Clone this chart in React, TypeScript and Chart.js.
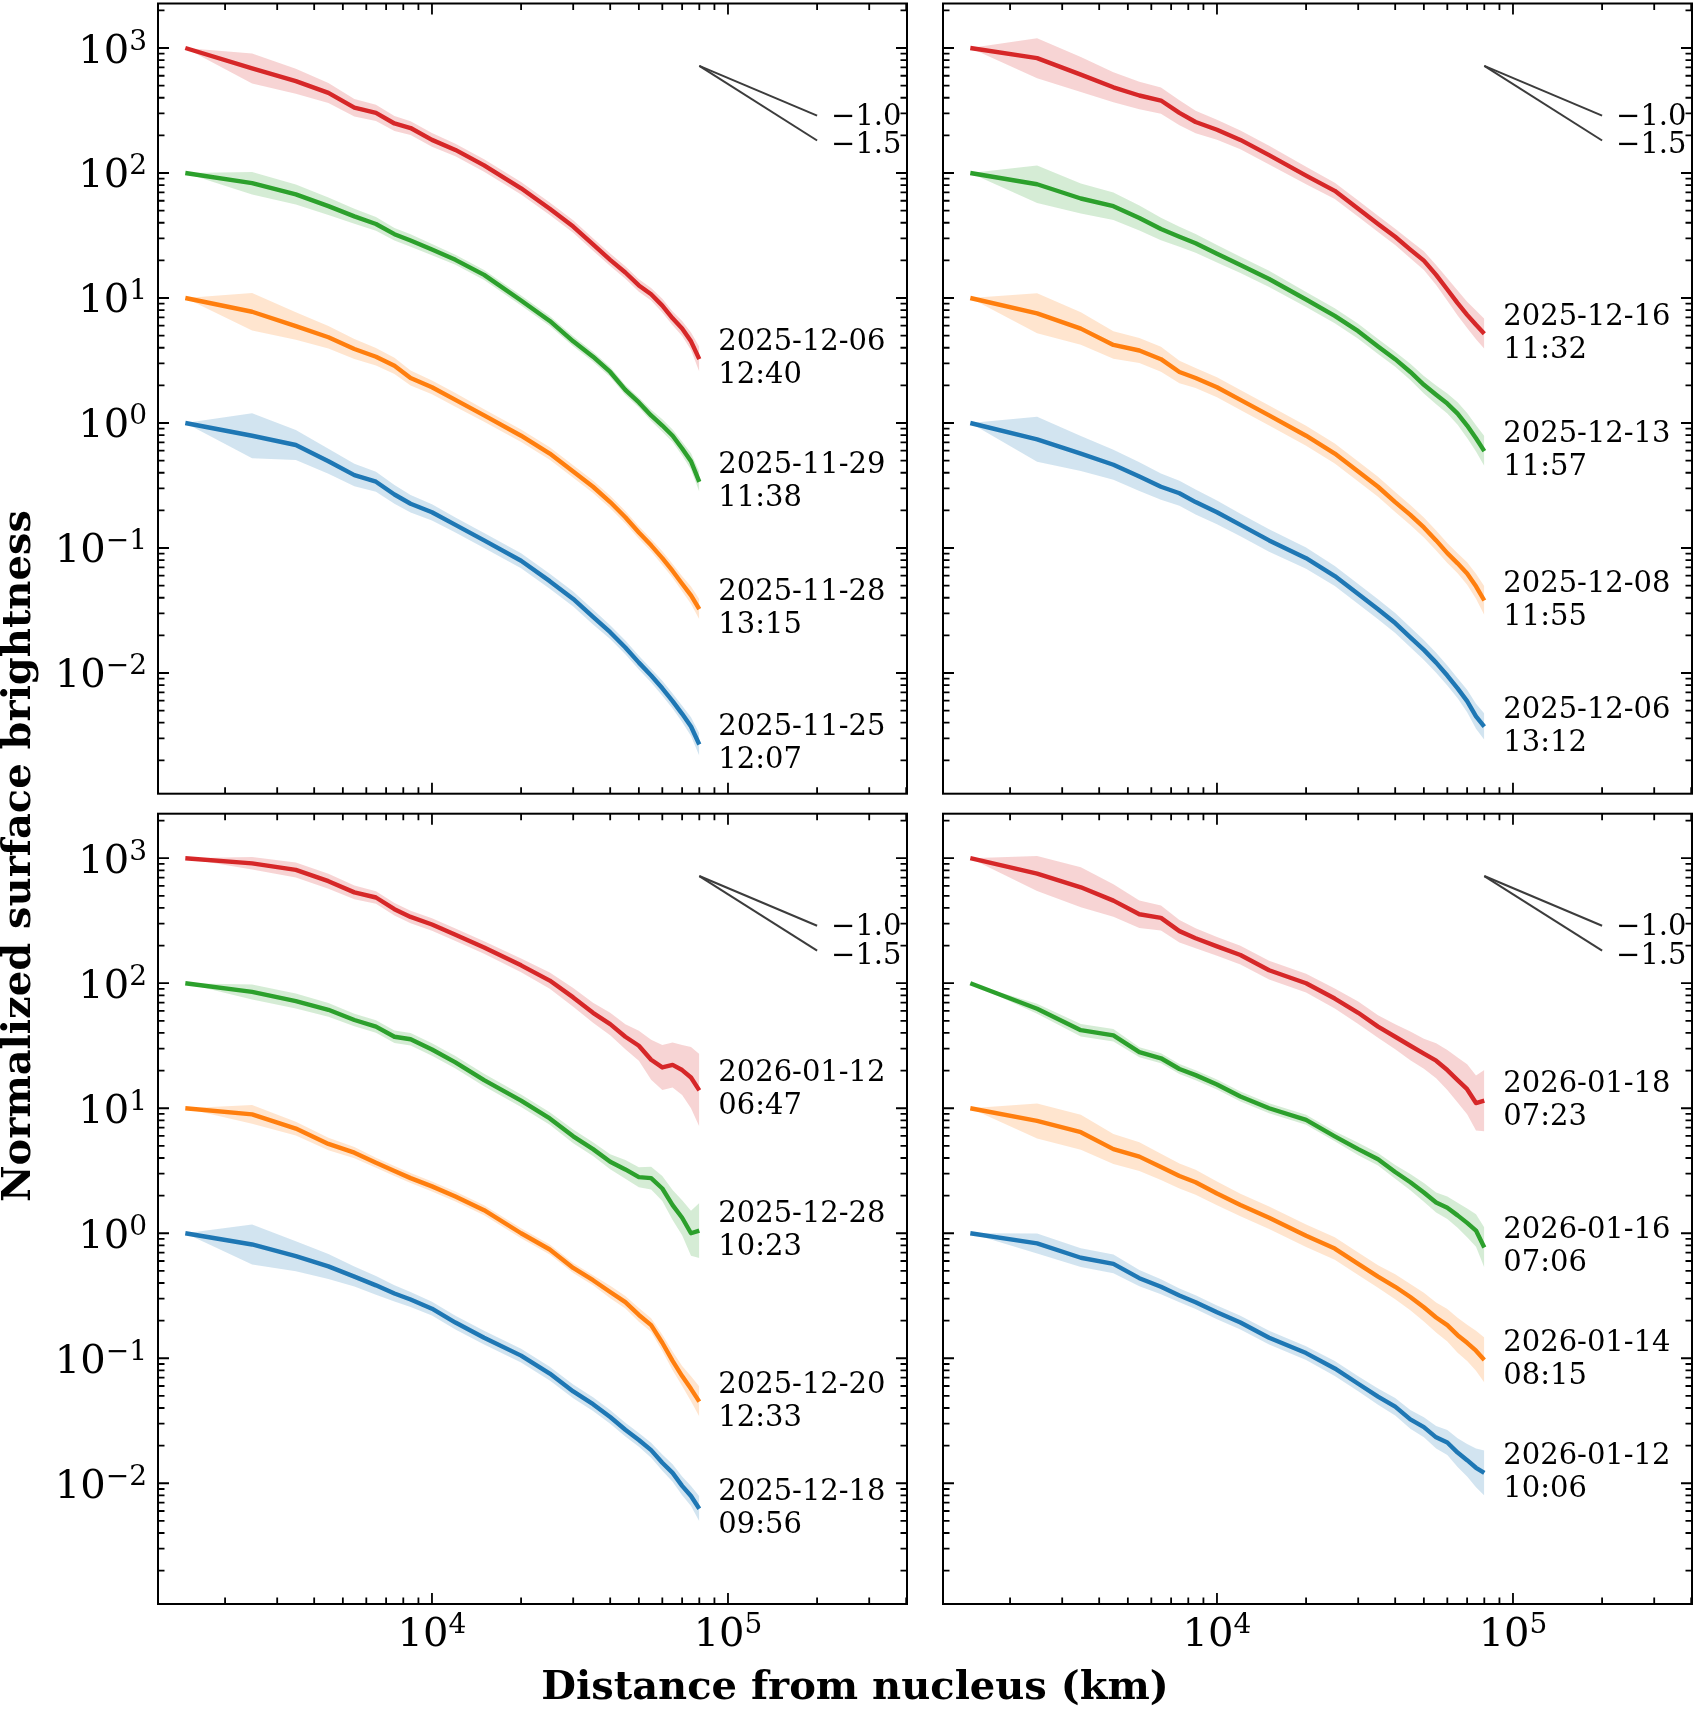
import React, { useEffect, useRef } from "react";
import { Chart, registerables } from "chart.js";

Chart.register(...registerables);

const W = 1696;
const H = 1713;

// distance from nucleus (km), sample positions
const DIST_KM = [1468, 2468, 3468, 4468, 5468, 6468, 7468, 8468, 10000, 12000, 15000, 20000, 25000, 30000, 35000, 40000, 45000, 50000, 55000, 60000, 65000, 70000, 75000, 80000];

// axis limits
const X_MIN = 1187;
const X_MAX = 402500;
const Y_MIN = 0.001082;
const Y_MAX = 2270;

// ---- Panel 1 (top left)
const P1_RED = [1000, 687, 543, 437, 333, 303, 249, 229, 184, 153, 115, 75.4, 51.8, 37.3, 26.8, 20.2, 16.0, 12.6, 10.7, 8.69, 6.87, 5.69, 4.5, 3.24];
const P1_GREEN = [100, 82.9, 67.4, 54.3, 45.0, 39.1, 32.4, 28.8, 24.4, 20.2, 15.3, 9.54, 6.55, 4.5, 3.39, 2.56, 1.84, 1.46, 1.15, 0.954, 0.791, 0.625, 0.494, 0.338];
const P1_ORANGE = [10, 7.76, 5.96, 4.85, 3.91, 3.39, 2.87, 2.29, 1.93, 1.53, 1.15, 0.791, 0.569, 0.41, 0.309, 0.233, 0.176, 0.133, 0.105, 0.0829, 0.0655, 0.0518, 0.0418, 0.0324];
const P1_BLUE = [1, 0.791, 0.667, 0.494, 0.383, 0.339, 0.268, 0.226, 0.193, 0.153, 0.115, 0.0791, 0.0543, 0.0391, 0.0281, 0.0212, 0.016, 0.0121, 0.00954, 0.00754, 0.00596, 0.00471, 0.00373, 0.00268];
const P1_RED_ERR = [0, 0.12, 0.1, 0.08, 0.07, 0.065, 0.06, 0.055, 0.055, 0.05, 0.05, 0.05, 0.05, 0.05, 0.05, 0.05, 0.05, 0.05, 0.05, 0.055, 0.055, 0.06, 0.07, 0.1];
const P1_GREEN_ERR = [0, 0.09, 0.08, 0.07, 0.06, 0.055, 0.05, 0.05, 0.045, 0.04, 0.04, 0.04, 0.04, 0.04, 0.04, 0.04, 0.04, 0.04, 0.045, 0.05, 0.05, 0.055, 0.065, 0.08];
const P1_ORANGE_ERR = [0, 0.15, 0.11, 0.09, 0.08, 0.07, 0.065, 0.06, 0.055, 0.055, 0.05, 0.05, 0.05, 0.05, 0.05, 0.05, 0.05, 0.05, 0.05, 0.055, 0.055, 0.06, 0.07, 0.08];
const P1_BLUE_ERR = [0, 0.18, 0.12, 0.1, 0.09, 0.08, 0.075, 0.07, 0.065, 0.06, 0.06, 0.06, 0.06, 0.06, 0.06, 0.055, 0.055, 0.055, 0.055, 0.06, 0.06, 0.065, 0.075, 0.09];
const P1_LABELS = ["2025-11-25\n12:07", "2025-11-28\n13:15", "2025-11-29\n11:38", "2025-12-06\n12:40"];

// ---- Panel 2 (top right)
const P2_RED = [1000, 829, 613, 485, 417, 380, 303, 256, 222, 184, 139, 95.4, 72.0, 51.8, 39.1, 30.9, 24.4, 19.9, 15.3, 11.7, 9.1, 7.33, 6.1, 5.18];
const P2_GREEN = [100, 81.3, 62.5, 54.3, 43.7, 35.6, 30.9, 27.4, 22.6, 18.4, 14.2, 9.73, 7.2, 5.43, 4.1, 3.24, 2.56, 2.02, 1.68, 1.43, 1.19, 0.954, 0.754, 0.596];
const P2_ORANGE = [10, 7.54, 5.69, 4.21, 3.8, 3.24, 2.56, 2.29, 1.93, 1.53, 1.15, 0.791, 0.569, 0.41, 0.309, 0.233, 0.184, 0.146, 0.115, 0.091, 0.0754, 0.0625, 0.0494, 0.038];
const P2_BLUE = [1, 0.74, 0.569, 0.463, 0.373, 0.309, 0.274, 0.233, 0.193, 0.153, 0.115, 0.0829, 0.0596, 0.0429, 0.0324, 0.0251, 0.0193, 0.0153, 0.0121, 0.00954, 0.00754, 0.00596, 0.0045, 0.00373];
const P2_RED_ERR = [0, 0.16, 0.14, 0.12, 0.11, 0.105, 0.1, 0.09, 0.08, 0.075, 0.075, 0.07, 0.065, 0.065, 0.065, 0.065, 0.07, 0.075, 0.08, 0.09, 0.1, 0.105, 0.115, 0.12];
const P2_GREEN_ERR = [0, 0.15, 0.12, 0.11, 0.1, 0.09, 0.08, 0.075, 0.07, 0.065, 0.065, 0.06, 0.06, 0.06, 0.06, 0.06, 0.065, 0.07, 0.075, 0.08, 0.09, 0.1, 0.105, 0.12];
const P2_ORANGE_ERR = [0, 0.16, 0.13, 0.11, 0.1, 0.1, 0.09, 0.08, 0.08, 0.08, 0.08, 0.08, 0.08, 0.08, 0.08, 0.08, 0.08, 0.08, 0.08, 0.08, 0.08, 0.09, 0.1, 0.115];
const P2_BLUE_ERR = [0, 0.18, 0.14, 0.12, 0.115, 0.105, 0.1, 0.1, 0.095, 0.09, 0.09, 0.085, 0.08, 0.08, 0.08, 0.08, 0.08, 0.08, 0.08, 0.08, 0.08, 0.09, 0.1, 0.105];
const P2_LABELS = ["2025-12-06\n13:12", "2025-12-08\n11:55", "2025-12-13\n11:57", "2025-12-16\n11:32"];

// ---- Panel 3 (bottom left)
const P3_RED = [1000, 910, 806, 655, 533, 485, 391, 339, 295, 244, 193, 139, 105, 77.0, 58.0, 47.1, 37.3, 31.6, 24.4, 21.2, 22.2, 20.2, 17.6, 13.9];
const P3_GREEN = [100, 85.2, 72.0, 61.3, 50.8, 45.0, 37.3, 35.6, 29.5, 23.3, 16.8, 11.5, 8.29, 5.96, 4.71, 3.73, 3.24, 2.81, 2.76, 2.28, 1.68, 1.33, 1.0, 1.05];
const P3_ORANGE = [10, 8.93, 6.87, 5.18, 4.41, 3.66, 3.15, 2.76, 2.37, 1.97, 1.53, 1.0, 0.741, 0.528, 0.421, 0.339, 0.281, 0.222, 0.184, 0.133, 0.0954, 0.072, 0.0569, 0.045];
const P3_BLUE = [1, 0.813, 0.655, 0.543, 0.45, 0.383, 0.33, 0.295, 0.249, 0.193, 0.146, 0.105, 0.0754, 0.0543, 0.0429, 0.0339, 0.0268, 0.0222, 0.0184, 0.0146, 0.0121, 0.00954, 0.00791, 0.00625];
const P3_RED_ERR = [0, 0.05, 0.06, 0.06, 0.055, 0.05, 0.05, 0.05, 0.05, 0.05, 0.05, 0.055, 0.065, 0.075, 0.08, 0.09, 0.1, 0.12, 0.16, 0.18, 0.18, 0.2, 0.245, 0.29];
const P3_GREEN_ERR = [0, 0.06, 0.06, 0.055, 0.05, 0.05, 0.05, 0.05, 0.05, 0.05, 0.05, 0.05, 0.05, 0.055, 0.055, 0.06, 0.075, 0.08, 0.09, 0.1, 0.12, 0.14, 0.18, 0.22];
const P3_ORANGE_ERR = [0, 0.075, 0.055, 0.05, 0.045, 0.04, 0.04, 0.04, 0.04, 0.04, 0.04, 0.04, 0.04, 0.04, 0.04, 0.05, 0.05, 0.055, 0.055, 0.065, 0.075, 0.08, 0.1, 0.12];
const P3_BLUE_ERR = [0, 0.16, 0.12, 0.1, 0.08, 0.075, 0.065, 0.06, 0.055, 0.055, 0.055, 0.055, 0.055, 0.055, 0.055, 0.055, 0.055, 0.055, 0.06, 0.065, 0.07, 0.075, 0.08, 0.1];
const P3_LABELS = ["2025-12-18\n09:56", "2025-12-20\n12:33", "2025-12-28\n10:23", "2026-01-12\n06:47"];

// ---- Panel 4 (bottom right)
const P4_RED = [1000, 754, 585, 458, 356, 333, 261, 229, 197, 168, 127, 100, 75.4, 58.0, 45.0, 37.3, 31.6, 27.3, 24.0, 20.2, 16.8, 14.2, 11.0, 11.5];
const P4_GREEN = [100, 62.5, 42.1, 38.3, 28.1, 25.1, 20.6, 18.4, 15.5, 12.4, 10.0, 8.07, 5.96, 4.71, 3.91, 3.09, 2.56, 2.12, 1.76, 1.6, 1.39, 1.21, 1.05, 0.77];
const P4_ORANGE = [10, 7.91, 6.43, 4.71, 4.1, 3.39, 2.87, 2.56, 2.08, 1.68, 1.33, 0.954, 0.754, 0.569, 0.45, 0.373, 0.309, 0.256, 0.212, 0.184, 0.153, 0.133, 0.115, 0.097];
const P4_BLUE = [1, 0.829, 0.637, 0.569, 0.437, 0.373, 0.318, 0.281, 0.233, 0.193, 0.146, 0.11, 0.0829, 0.0625, 0.0494, 0.041, 0.0324, 0.0281, 0.0233, 0.0212, 0.0176, 0.0153, 0.0133, 0.0121];
const P4_RED_ERR = [0, 0.14, 0.16, 0.13, 0.11, 0.1, 0.09, 0.08, 0.075, 0.075, 0.075, 0.075, 0.08, 0.09, 0.09, 0.1, 0.115, 0.12, 0.14, 0.16, 0.18, 0.2, 0.22, 0.245];
const P4_GREEN_ERR = [0, 0.04, 0.05, 0.05, 0.04, 0.04, 0.04, 0.04, 0.04, 0.04, 0.04, 0.04, 0.04, 0.05, 0.05, 0.055, 0.065, 0.075, 0.08, 0.09, 0.1, 0.115, 0.13, 0.16];
const P4_ORANGE_ERR = [0, 0.14, 0.14, 0.12, 0.115, 0.105, 0.1, 0.1, 0.095, 0.09, 0.09, 0.09, 0.09, 0.09, 0.09, 0.1, 0.105, 0.115, 0.12, 0.13, 0.14, 0.145, 0.16, 0.18];
const P4_BLUE_ERR = [0, 0.08, 0.075, 0.075, 0.065, 0.06, 0.055, 0.055, 0.055, 0.055, 0.055, 0.055, 0.06, 0.06, 0.065, 0.07, 0.075, 0.08, 0.09, 0.1, 0.115, 0.13, 0.155, 0.18];
const P4_LABELS = ["2026-01-12\n10:06", "2026-01-14\n08:15", "2026-01-16\n07:06", "2026-01-18\n07:23"];

// power-law guide lines
const SLOPE_X = [80000, 200000];
const SLOPE_M10_Y = [720, 288];
const SLOPE_M15_Y = [720, 182];
const SLOPE_LABELS = ["\u22121.0", "\u22121.5"];

const X_TITLE = "Distance from nucleus (km)";
const Y_TITLE = "Normalized surface brightness";

const COLORS = ["#1f77b4", "#ff7f0e", "#2ca02c", "#d62728"];
const BANDS = ["rgba(31,119,180,0.2)", "rgba(255,127,14,0.2)", "rgba(44,160,44,0.2)", "rgba(214,39,40,0.2)"];

type PanelCfg = {
  rect: [number, number, number, number]; // left, right, top, bottom
  values: number[][];
  errs: number[][];
  labels: string[];
  showY: boolean;
  showX: boolean;
  titles: boolean;
};

const PANELS: PanelCfg[] = [
  { rect: [158, 907, 3.5, 793.7], values: [P1_BLUE, P1_ORANGE, P1_GREEN, P1_RED], errs: [P1_BLUE_ERR, P1_ORANGE_ERR, P1_GREEN_ERR, P1_RED_ERR], labels: P1_LABELS, showY: true, showX: false, titles: true },
  { rect: [943, 1692, 3.5, 793.7], values: [P2_BLUE, P2_ORANGE, P2_GREEN, P2_RED], errs: [P2_BLUE_ERR, P2_ORANGE_ERR, P2_GREEN_ERR, P2_RED_ERR], labels: P2_LABELS, showY: false, showX: false, titles: false },
  { rect: [158, 907, 813.7, 1604], values: [P3_BLUE, P3_ORANGE, P3_GREEN, P3_RED], errs: [P3_BLUE_ERR, P3_ORANGE_ERR, P3_GREEN_ERR, P3_RED_ERR], labels: P3_LABELS, showY: true, showX: true, titles: false },
  { rect: [943, 1692, 813.7, 1604], values: [P4_BLUE, P4_ORANGE, P4_GREEN, P4_RED], errs: [P4_BLUE_ERR, P4_ORANGE_ERR, P4_GREEN_ERR, P4_RED_ERR], labels: P4_LABELS, showY: false, showX: true, titles: false },
];

const SERIF = '"DejaVu Serif", "Liberation Serif", serif';

function makeDecor(cfg: PanelCfg) {
  return {
    id: "decor",
    afterDraw(chart: any) {
      const ctx: CanvasRenderingContext2D = chart.ctx;
      const { left, right, top, bottom } = chart.chartArea;
      const xs = chart.scales.x;
      const ys = chart.scales.y;
      ctx.save();
      ctx.strokeStyle = "#000";
      ctx.fillStyle = "#000";
      // ticks (inward on all four sides)
      ctx.lineWidth = 1.8;
      ctx.beginPath();
      for (let n = 3; n <= 5; n++) {
        for (let k = 1; k <= 9; k++) {
          const v = k * Math.pow(10, n);
          if (v < X_MIN || v > X_MAX) continue;
          const px = xs.getPixelForValue(v);
          const len = k === 1 ? 11 : 6.5;
          ctx.moveTo(px, bottom);
          ctx.lineTo(px, bottom - len);
          ctx.moveTo(px, top);
          ctx.lineTo(px, top + len);
        }
      }
      for (let n = -3; n <= 3; n++) {
        for (let k = 1; k <= 9; k++) {
          const v = k * Math.pow(10, n);
          if (v < Y_MIN || v > Y_MAX) continue;
          const py = ys.getPixelForValue(v);
          const len = k === 1 ? 11 : 6.5;
          ctx.moveTo(left, py);
          ctx.lineTo(left + len, py);
          ctx.moveTo(right, py);
          ctx.lineTo(right - len, py);
        }
      }
      ctx.stroke();
      // frame
      ctx.lineWidth = 2;
      ctx.strokeRect(left, top, right - left, bottom - top);

      const BASE = `40px ${SERIF}`;
      const EXP = `28px ${SERIF}`;
      ctx.textAlign = "left";
      ctx.textBaseline = "alphabetic";
      if (cfg.showY) {
        for (let n = -2; n <= 3; n++) {
          const py = ys.getPixelForValue(Math.pow(10, n));
          const exp = n < 0 ? "\u2212" + -n : String(n);
          ctx.font = BASE;
          const wb = ctx.measureText("10").width;
          ctx.font = EXP;
          const we = ctx.measureText(exp).width;
          const xr = left - 11;
          ctx.font = BASE;
          ctx.fillText("10", xr - we - wb, py + 14.5);
          ctx.font = EXP;
          ctx.fillText(exp, xr - we, py + 1.5);
        }
      }
      if (cfg.showX) {
        for (let n = 4; n <= 5; n++) {
          const px = xs.getPixelForValue(Math.pow(10, n));
          const exp = String(n);
          ctx.font = BASE;
          const wb = ctx.measureText("10").width;
          ctx.font = EXP;
          const we = ctx.measureText(exp).width;
          const x0 = px - (wb + we) / 2;
          ctx.font = BASE;
          ctx.fillText("10", x0, bottom + 42);
          ctx.font = EXP;
          ctx.fillText(exp, x0 + wb, bottom + 29);
        }
      }
      // date labels at the end of each profile
      ctx.font = `29px ${SERIF}`;
      cfg.values.forEach((vals, i) => {
        const last = vals.length - 1;
        const px = xs.getPixelForValue(DIST_KM[last]);
        const py = ys.getPixelForValue(vals[last]);
        const lines = cfg.labels[i].split("\n");
        ctx.fillText(lines[0], px + 19, py - 9);
        ctx.fillText(lines[1], px + 19, py + 24);
      });
      // slope labels
      const sx = xs.getPixelForValue(SLOPE_X[1]) + 14;
      ctx.fillText(SLOPE_LABELS[0], sx, ys.getPixelForValue(SLOPE_M10_Y[1]) + 9.5);
      ctx.fillText(SLOPE_LABELS[1], sx, ys.getPixelForValue(SLOPE_M15_Y[1]) + 13);

      if (cfg.titles) {
        ctx.font = `bold 40px ${SERIF}`;
        ctx.textAlign = "center";
        ctx.textBaseline = "middle";
        ctx.fillText(X_TITLE, 855, 1689);
        ctx.save();
        ctx.translate(20, 856);
        ctx.rotate(-Math.PI / 2);
        ctx.fillText(Y_TITLE, 0, 0);
        ctx.restore();
      }
      ctx.restore();
    },
  };
}

function buildDatasets(cfg: PanelCfg) {
  const ds: any[] = [];
  cfg.values.forEach((vals, i) => {
    const err = cfg.errs[i];
    ds.push({
      data: DIST_KM.map((x, j) => ({ x, y: vals[j] * Math.pow(10, err[j]) })),
      borderWidth: 0,
      pointRadius: 0,
      backgroundColor: BANDS[i],
      fill: "+1",
    });
    ds.push({
      data: DIST_KM.map((x, j) => ({ x, y: vals[j] / Math.pow(10, err[j]) })),
      borderWidth: 0,
      pointRadius: 0,
      fill: false,
    });
  });
  cfg.values.forEach((vals, i) => {
    ds.push({
      data: DIST_KM.map((x, j) => ({ x, y: vals[j] })),
      borderColor: COLORS[i],
      borderWidth: 4.4,
      pointRadius: 0,
      fill: false,
      borderJoinStyle: "round",
    });
  });
  ds.push({
    data: SLOPE_X.map((x, j) => ({ x, y: SLOPE_M10_Y[j] })),
    borderColor: "#3c3c3c",
    borderWidth: 2,
    pointRadius: 0,
    fill: false,
  });
  ds.push({
    data: SLOPE_X.map((x, j) => ({ x, y: SLOPE_M15_Y[j] })),
    borderColor: "#3c3c3c",
    borderWidth: 2,
    pointRadius: 0,
    fill: false,
  });
  return ds;
}

function Panel({ cfg }: { cfg: PanelCfg }) {
  const ref = useRef<HTMLCanvasElement | null>(null);
  useEffect(() => {
    if (!ref.current) return;
    const [l, r, t, b] = cfg.rect;
    const chart = new Chart(ref.current, {
      type: "line",
      data: { datasets: buildDatasets(cfg) },
      options: {
        animation: false,
        responsive: false,
        devicePixelRatio: 1,
        layout: { padding: { left: l, right: W - r, top: t, bottom: H - b } },
        scales: {
          x: { type: "logarithmic", min: X_MIN, max: X_MAX, display: false },
          y: { type: "logarithmic", min: Y_MIN, max: Y_MAX, display: false },
        },
        plugins: { legend: { display: false }, tooltip: { enabled: false } },
        elements: { line: { tension: 0 }, point: { radius: 0 } },
      } as any,
      plugins: [makeDecor(cfg)],
    });
    return () => chart.destroy();
  }, []);
  return (
    <canvas
      ref={ref}
      width={W}
      height={H}
      style={{ position: "absolute", left: 0, top: 0, width: W, height: H }}
    />
  );
}

export default function App() {
  return (
    <div style={{ position: "absolute", left: 0, top: 0, width: W, height: H, background: "#fff", overflow: "hidden" }}>
      {PANELS.map((p, i) => (
        <Panel key={i} cfg={p} />
      ))}
    </div>
  );
}
